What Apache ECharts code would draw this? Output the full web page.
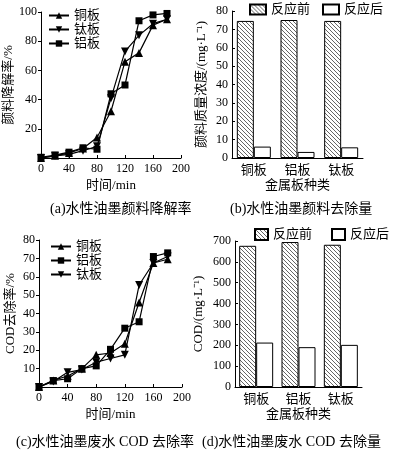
<!DOCTYPE html>
<html>
<head>
<meta charset="utf-8">
<script src="https://cdn.jsdelivr.net/npm/echarts@6/dist/echarts.min.js"></script>
<style>
  html, body { margin: 0; padding: 0; background: #fff; }
  #main { width: 396px; height: 453px; }
</style>
</head>
<body>
<div id="main"></div>
<script>
    // 数据
    var times = [0, 20, 40, 60, 80, 100, 120, 140, 160, 180];
    // (a) 颜料降解率 /%
    var degCu = [0, 1.5, 3.5, 6.5, 14, 32, 66, 72, 91, 95];
    var degTi = [0, 1.5, 2.5, 5, 8, 41, 73, 84, 92, 95];
    var degAl = [0.5, 2, 4, 7, 6, 44, 50, 94, 98, 99];
    // (c) COD 去除率 /%
    var codCu = [0, 3.6, 6, 10, 17.5, 18.5, 23.5, 46, 67.5, 69.5];
    var codAl = [0, 3.5, 4.5, 10, 11.5, 20.5, 32, 35.5, 71, 73];
    var codTi = [0, 3, 8, 9.5, 13.5, 15.5, 17.5, 55.5, 67.5, 71];
    // (b)(d) 柱状图
    var metals = ['铜板', '铝板', '钛板'];
    var pigBefore = [74.6, 75.1, 74.6];
    var pigAfter = [6.2, 3.3, 5.8];
    var codBefore = [677, 695, 682];
    var codAfter = [213, 191, 202];

    var FONT = "'Liberation Serif', 'Noto Sans CJK SC', serif";

    // 斜线填充
    var hatch = document.createElement('canvas');
    hatch.width = 4; hatch.height = 4;
    var hc = hatch.getContext('2d');
    hc.fillStyle = '#fff';
    hc.fillRect(0, 0, 4, 4);
    hc.strokeStyle = '#555';
    hc.lineWidth = 0.9;
    hc.beginPath();
    hc.moveTo(-1, -1); hc.lineTo(5, 5);
    hc.moveTo(-1, 3); hc.lineTo(1, 5);
    hc.moveTo(3, -1); hc.lineTo(5, 1);
    hc.stroke();

    var axisLine = { lineStyle: { color: '#000', width: 1 } };
    var lbl = { color: '#000', fontSize: 12, fontFamily: FONT, margin: 5 };
    var nameStyle = { color: '#000', fontSize: 13, fontFamily: FONT };
    var legText = { color: '#000', fontSize: 13, fontFamily: FONT };

    function hideZero(v) { return v === 0 ? '' : v; }

    function timeAxis(gi) {
        return {
            type: 'value', gridIndex: gi, min: 0, max: 200, interval: 40,
            name: '时间/min', nameLocation: 'middle', nameGap: 21, nameTextStyle: nameStyle,
            axisLine: axisLine, axisTick: { inside: true, length: 3, lineStyle: { color: '#000' } },
            axisLabel: lbl, splitLine: { show: false }
        };
    }
    function valAxis(gi, max, step, name, gap, hide0, inside) {
        return {
            type: 'value', gridIndex: gi, min: 0, max: max, interval: step,
            name: name, nameLocation: 'middle', nameGap: gap, nameTextStyle: nameStyle,
            axisLine: { show: true, lineStyle: { color: '#000', width: 1 } },
            axisTick: { show: true, inside: inside, length: 3, lineStyle: { color: '#000' } },
            axisLabel: { color: '#000', fontSize: 12, fontFamily: FONT, margin: 4, formatter: hide0 ? hideZero : '{value}' },
            splitLine: { show: false }
        };
    }
    function catAxis(gi) {
        return {
            type: 'category', gridIndex: gi, data: metals,
            name: '金属板种类', nameLocation: 'middle', nameGap: 21, nameTextStyle: nameStyle,
            axisLine: axisLine, axisTick: { show: false },
            axisLabel: { color: '#000', fontSize: 13, fontFamily: FONT, margin: 6 }
        };
    }
    function lineSeries(name, data, symbol, rot, xi) {
        var pts = [];
        for (var i = 0; i < times.length; i++) pts.push([times[i], data[i]]);
        return {
            type: 'line', name: name, xAxisIndex: xi, yAxisIndex: xi, data: pts,
            symbol: symbol, symbolRotate: rot, symbolSize: symbol === 'rect' ? 7 : 8,
            showAllSymbol: true,
            lineStyle: { color: '#000', width: 1.2 },
            itemStyle: { color: '#000' }
        };
    }
    function barSeries(name, data, xi, pattern) {
        return {
            type: 'bar', name: name, xAxisIndex: xi, yAxisIndex: xi, data: data,
            barWidth: 17, barGap: '0%',
            itemStyle: { color: pattern ? { image: hatch, repeat: 'repeat' } : '#fff', borderColor: '#000', borderWidth: 1 }
        };
    }

    var mychart = echarts.init(document.getElementById('main'));
    mychart.setOption({
        animation: false,
        backgroundColor: '#fff',
        textStyle: { fontFamily: FONT },
        grid: [
            { left: 41, top: 12, width: 140, height: 146 },
            { left: 232, top: 11, width: 131, height: 147 },
            { left: 39, top: 240, width: 143, height: 147 },
            { left: 235, top: 241, width: 127, height: 146 }
        ],
        legend: [
            { data: ['铜板', '钛板', '铝板'], orient: 'vertical', left: 48, top: 9, padding: 0,
              itemWidth: 20, itemHeight: 8, itemGap: 1, textStyle: legText },
            { data: ['反应前', '反应后'], orient: 'horizontal', left: 249, top: 3, padding: 0, width: 147,
              icon: 'rect', itemWidth: 16, itemHeight: 10, itemGap: 12, textStyle: legText },
            { data: ['铜板', '铝板', '钛板'], orient: 'vertical', left: 50, top: 240, padding: 0,
              itemWidth: 20, itemHeight: 8, itemGap: 1, textStyle: legText },
            { data: ['反应前', '反应后'], orient: 'horizontal', left: 254, top: 228, padding: 0, width: 142,
              icon: 'rect', itemWidth: 13, itemHeight: 11, itemGap: 19, textStyle: legText }
        ],
        xAxis: [timeAxis(0), catAxis(1), timeAxis(2), catAxis(3)],
        yAxis: [
            valAxis(0, 100, 20, '颜料降解率/%', 26, true, false),
            valAxis(1, 80, 10, '颜料质量浓度/(mg·L⁻¹)', 24, false, true),
            valAxis(2, 80, 10, 'COD去除率/%', 22, true, false),
            valAxis(3, 700, 100, 'COD/(mg·L⁻¹)', 30, false, true)
        ],
        series: [
            lineSeries('铜板', degCu, 'triangle', 0, 0),
            lineSeries('钛板', degTi, 'triangle', 180, 0),
            lineSeries('铝板', degAl, 'rect', 0, 0),
            barSeries('反应前', pigBefore, 1, true),
            barSeries('反应后', pigAfter, 1, false),
            lineSeries('铜板', codCu, 'triangle', 0, 2),
            lineSeries('铝板', codAl, 'rect', 0, 2),
            lineSeries('钛板', codTi, 'triangle', 180, 2),
            barSeries('反应前', codBefore, 3, true),
            barSeries('反应后', codAfter, 3, false)
        ],
        graphic: [
            { type: 'text', left: 50, top: 202, style: { text: '(a)水性油墨颜料降解率', fill: '#000', font: '14px ' + FONT } },
            { type: 'text', left: 230, top: 202, style: { text: '(b)水性油墨颜料去除量', fill: '#000', font: '14px ' + FONT } },
            { type: 'text', left: 16, top: 435, style: { text: '(c)水性油墨废水 COD 去除率', fill: '#000', font: '14px ' + FONT } },
            { type: 'text', left: 202, top: 435, style: { text: '(d)水性油墨废水 COD 去除量', fill: '#000', font: '14px ' + FONT } }
        ]
    });
</script>
</body>
</html>
